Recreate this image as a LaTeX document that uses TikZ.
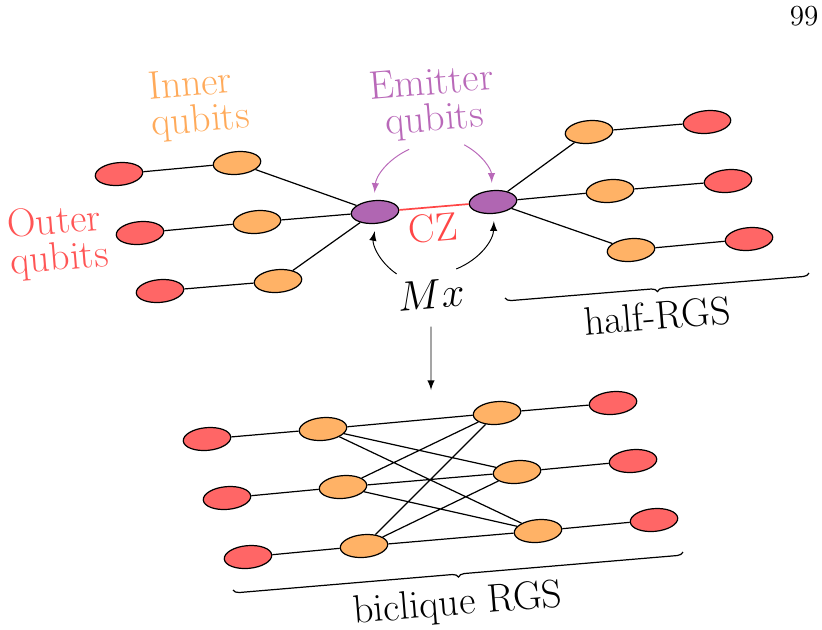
\documentclass[tikz,border=0pt]{standalone}
\usetikzlibrary{shapes.geometric, decorations.pathreplacing}
\begin{document}
\begin{tikzpicture}[x=0.0145cm, y=0.0145cm, >=latex,
    qubit/.style={ellipse, draw, line width=0.5pt, minimum width=0.69cm, minimum height=0.33cm, inner sep=0pt, rotate=5},
    outer/.style={qubit, fill=outerred},
    inner/.style={qubit, fill=innerorange},
    emitter/.style={qubit, fill=emitpurple},
    lbl/.style={font=\fontsize{16.4}{15}\selectfont, rotate=4.7},
    edge/.style={line width=0.5pt},
    rgsbrace/.style={decorate, decoration={brace, mirror, amplitude=2.5pt}, line width=0.5pt}]
    % Colours of the picture
    \definecolor{outerred}{RGB}{255, 102, 102}
    \definecolor{innerorange}{RGB}{255, 178, 102}
    \definecolor{emitpurple}{RGB}{176, 102, 178}
    \definecolor{innertxt}{RGB}{255, 170, 90}
    \definecolor{outertxt}{RGB}{255, 85, 85}
    \definecolor{emittxt}{RGB}{185, 105, 185}
    \definecolor{czred}{RGB}{255, 70, 70}

    \useasboundingbox (0,0) rectangle (822,-629);
    \node[font=\large] (page) at (804,-16) {99};

    % 1. Half-RGS on each side of the emitters
    \node[outer] (oL1) at (119,-174) {};
    \node[outer] (oL2) at (140,-233) {};
    \node[outer] (oL3) at (160,-291) {};
    \node[inner] (iL1) at (237,-163) {};
    \node[inner] (iL2) at (257,-222) {};
    \node[inner] (iL3) at (278,-281) {};
    \node[emitter] (eL) at (375,-212) {};
    \node[emitter] (eR) at (493,-202) {};
    \node[inner] (iR1) at (589,-132) {};
    \node[inner] (iR2) at (610,-191) {};
    \node[inner] (iR3) at (631,-250) {};
    \node[outer] (oR1) at (707,-122) {};
    \node[outer] (oR2) at (728,-181) {};
    \node[outer] (oR3) at (749,-239) {};

    \draw[edge] (oL1) -- (iL1) -- (eL) (oL2) -- (iL2) -- (eL) (oL3) -- (iL3) -- (eL);
    \draw[edge] (eR) -- (iR1) -- (oR1) (eR) -- (iR2) -- (oR2) (eR) -- (iR3) -- (oR3);
    \draw[czred, line width=0.7pt] (eL) -- (eR);

    % 2. Labels and arrows
    \node[lbl, text=innertxt, align=left] (innlbl) at (199,-104) {Inner\\qubits};
    \node[lbl, text=outertxt, align=left] (outlbl) at (58,-242) {Outer\\qubits};
    \node[lbl, text=emittxt, align=center] (emitlbl) at (433,-103) {Emitter\\qubits};
    \node[lbl, text=czred] (cz) at (433,-228) {CZ};
    \node[lbl] (mx) at (431,-294) {$Mx$};

    \draw[->, emittxt, shorten >=3pt] (emitlbl.238) to[bend right=30] (eL.north);
    \draw[->, emittxt, shorten >=3pt] (emitlbl.302) to[bend left=30] (eR.north);
    \draw[->, shorten >=3pt] (mx.145) to[bend left=33] (eL.south);
    \draw[->, shorten >=3pt] (mx.40) to[bend right=33] (eR.south);

    \draw[rgsbrace] (505,-298) -- (809,-273);
    \node[lbl] (half) at (657,-316) {half-RGS};

    \coordinate (bc) at (431,-390);
    \draw[->, shorten <=4pt] (mx) -- (bc);

    % 3. Biclique RGS
    \node[outer] (boL1) at (207,-439) {};
    \node[outer] (boL2) at (227,-498) {};
    \node[outer] (boL3) at (248,-557) {};
    \node[inner] (biL1) at (323,-429) {};
    \node[inner] (biL2) at (343,-487) {};
    \node[inner] (biL3) at (364,-546) {};
    \node[inner] (biR1) at (497,-413) {};
    \node[inner] (biR2) at (517,-472) {};
    \node[inner] (biR3) at (538,-531) {};
    \node[outer] (boR1) at (613,-403) {};
    \node[outer] (boR2) at (633,-461) {};
    \node[outer] (boR3) at (654,-520) {};

    \draw[edge] (boL1) -- (biL1) (boL2) -- (biL2) (boL3) -- (biL3)
        (biR1) -- (boR1) (biR2) -- (boR2) (biR3) -- (boR3);
    \draw[edge] (biL1) -- (biR1) (biL1) -- (biR2) (biL1) -- (biR3)
        (biL2) -- (biR1) (biL2) -- (biR2) (biL2) -- (biR3)
        (biL3) -- (biR1) (biL3) -- (biR2) (biL3) -- (biR3);

    \draw[rgsbrace] (233,-590) -- (683,-552);
    \node[lbl, inner sep=0.5pt] (bic) at (458,-605) {biclique RGS};
\end{tikzpicture}
\end{document}
